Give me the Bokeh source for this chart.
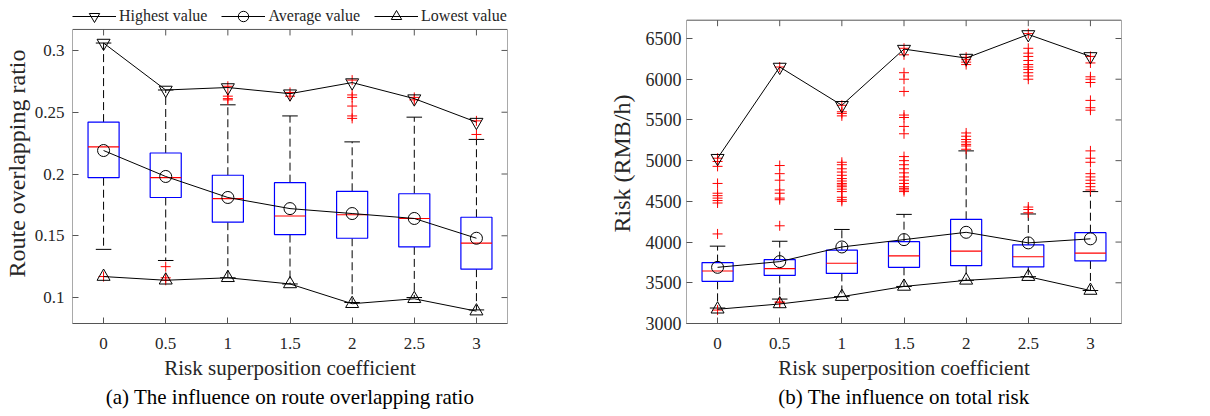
from bokeh.plotting import figure
from bokeh.models import Range1d, FixedTicker, Legend, LegendItem
from bokeh.layouts import row
from bokeh.embed import file_html
from bokeh.resources import INLINE

# ---------------- data ----------------
coef = [0, 0.5, 1, 1.5, 2, 2.5, 3]
coef_labels = ["0", "0.5", "1", "1.5", "2", "2.5", "3"]

# (a) route overlapping ratio
a_q1 = [0.197, 0.181, 0.161, 0.151, 0.148, 0.141, 0.123]
a_q3 = [0.242, 0.217, 0.199, 0.193, 0.186, 0.184, 0.165]
a_med = [0.222, 0.197, 0.180, 0.166, 0.167, 0.164, 0.144]
a_whi = [0.306, 0.268, 0.256, 0.247, 0.226, 0.246, 0.228]
a_wlo = [0.139, 0.130, 0.116, 0.111, 0.096, 0.100, 0.090]
a_mean = [0.219, 0.198, 0.181, 0.172, 0.168, 0.164, 0.148]
a_high = [0.306, 0.268, 0.270, 0.265, 0.274, 0.261, 0.242]
a_low = [0.117, 0.114, 0.116, 0.111, 0.095, 0.099, 0.089]
a_out_x = [0, 0.5, 0.5, 0.5, 1, 1, 1, 1, 1.5, 1.5, 2, 2, 2, 2, 2, 2, 2.5, 2.5, 3, 3]
a_out_y = [0.117, 0.125, 0.116, 0.114, 0.271, 0.263, 0.261, 0.260, 0.266, 0.263,
           0.276, 0.264, 0.262, 0.255, 0.247, 0.245, 0.262, 0.260, 0.243, 0.232]
a_yticks = [0.1, 0.15, 0.2, 0.25, 0.3]
a_ylabels = ["0.1", "0.15", "0.2", "0.25", "0.3"]

# (b) total risk
b_q1 = [3518, 3590, 3615, 3690, 3710, 3695, 3768]
b_q3 = [3748, 3785, 3900, 4005, 4280, 3965, 4115]
b_med = [3645, 3675, 3740, 3830, 3890, 3820, 3865]
b_whi = [3950, 4010, 4155, 4340, 5120, 4345, 4620]
b_wlo = [3190, 3300, 3330, 3455, 3530, 3575, 3405]
b_mean = [3690, 3760, 3940, 4030, 4120, 3990, 4040]
b_high = [5030, 6150, 5680, 6370, 6260, 6550, 6280]
b_low = [3175, 3240, 3330, 3455, 3530, 3575, 3405]
b_out = {
    0: [3165, 4100, 4480, 4510, 4540, 4570, 4600, 4720, 4930, 4990, 5030],
    0.5: [3255, 3265, 4200, 4520, 4540, 4600, 4640, 4760, 4840, 4940, 6150],
    1: [4500, 4520, 4550, 4620, 4650, 4680, 4700, 4720, 4750, 4780, 4820, 4860,
        4900, 4950, 4980, 5550, 5580, 5600, 5680],
    1.5: [4620, 4640, 4660, 4680, 4720, 4760, 4800, 4850, 4900, 4950, 5000, 5050,
          5330, 5420, 5530, 5560, 5850, 6000, 6080, 6300, 6380],
    2: [5140, 5180, 5200, 5230, 5260, 5300, 5340, 6180, 6210, 6240, 6270],
    2.5: [4360, 4400, 4430, 6000, 6040, 6080, 6120, 6150, 6180, 6230, 6280, 6320,
          6380, 6560],
    3: [4640, 4680, 4720, 4760, 4800, 4840, 4980, 5030, 5120, 5620, 5650, 5740,
        5960, 6000, 6030, 6200, 6280],
}
b_out_x = [k for k, vs in b_out.items() for _ in vs]
b_out_y = [v for vs in b_out.values() for v in vs]
b_yticks = [3000, 3500, 4000, 4500, 5000, 5500, 6000, 6500]
b_ylabels = [str(t) for t in b_yticks]

FONT = "Liberation Serif"
TXT = "#262626"
AX = "#555555"
FRAME_H = 320          # drawing area height (px); the visible axes box is shorter
X0, X1 = -0.25, 3.25


def panel(q1, q3, med, whi, wlo, mean, high, low, ox, oy, yr, box_top, yt, yl,
          ylabel, caption, legend, mleft, mright,
          tick_fs, tick_standoff, label_standoff):
    p = figure(width=605, height=416, x_range=Range1d(X0, X1),
               y_range=Range1d(*yr), output_backend="svg", toolbar_location=None,
               min_border_left=mleft, min_border_right=mright,
               min_border_top=3, min_border_bottom=93)
    p.grid.visible = False
    p.outline_line_color = None
    p.background_fill_color = "white"
    hw = 0.125
    cw = 0.0625
    # axes box
    p.quad(left=[X0], right=[X1], bottom=[yr[0]], top=[box_top], fill_alpha=0,
           line_color=AX, line_width=1)
    # mirrored ticks on top and right edges (tick length ~6px)
    tx = 6 * (X1 - X0) / 436
    ty = 6 * (yr[1] - yr[0]) / FRAME_H
    p.segment(x0=coef, x1=coef, y0=[box_top] * len(coef), y1=[box_top - ty] * len(coef),
              line_color=AX, line_width=1)
    p.segment(x0=[X1] * len(yt), x1=[X1 - tx] * len(yt), y0=yt, y1=yt,
              line_color=AX, line_width=1)
    # whiskers
    p.segment(x0=coef, x1=coef, y0=q3, y1=whi, line_color="black",
              line_dash="8 4", line_width=1)
    p.segment(x0=coef, x1=coef, y0=q1, y1=wlo, line_color="black",
              line_dash="8 4", line_width=1)
    p.segment(x0=[c - cw for c in coef], x1=[c + cw for c in coef], y0=whi, y1=whi,
              line_color="black", line_width=1)
    p.segment(x0=[c - cw for c in coef], x1=[c + cw for c in coef], y0=wlo, y1=wlo,
              line_color="black", line_width=1)
    # boxes
    p.quad(left=[c - hw for c in coef], right=[c + hw for c in coef], top=q3,
           bottom=q1, fill_color="white", fill_alpha=1, line_color="blue", line_width=1.2)
    p.segment(x0=[c - hw for c in coef], x1=[c + hw for c in coef], y0=med, y1=med,
              line_color="red", line_width=1.2)
    # outliers
    p.scatter(ox, oy, marker="cross", size=10, line_color="red", line_width=1)
    # summary lines
    lh = p.line(coef, high, line_color="black", line_width=1)
    sh = p.scatter(coef, high, marker="inverted_triangle", size=13, fill_alpha=0,
                   line_color="black", line_width=1)
    lm = p.line(coef, mean, line_color="black", line_width=1)
    sm = p.scatter(coef, mean, marker="circle", size=12, fill_alpha=0,
                   line_color="black", line_width=1)
    ll = p.line(coef, low, line_color="black", line_width=1)
    sl = p.scatter(coef, low, marker="triangle", size=13, fill_alpha=0,
                   line_color="black", line_width=1)

    # axes
    for ax in (p.xaxis[0], p.yaxis[0]):
        ax.major_tick_in = 6
        ax.major_tick_out = 0
        ax.minor_tick_in = 0
        ax.minor_tick_out = 0
        ax.major_tick_line_color = AX
        ax.major_label_text_font = FONT
        ax.major_label_text_color = TXT
        ax.axis_label_text_font = FONT
        ax.axis_label_text_font_style = "normal"
        ax.axis_label_text_color = TXT
    p.xaxis.axis_line_color = AX
    p.yaxis.axis_line_color = None
    p.xaxis.ticker = FixedTicker(ticks=coef)
    p.xaxis.major_label_overrides = dict(zip(coef, coef_labels))
    p.xaxis.major_label_text_font_size = "17px"
    p.xaxis.major_label_standoff = 14
    p.xaxis.axis_label = "Risk superposition coefficient"
    p.xaxis.axis_label_text_font_size = "21px"
    p.xaxis.axis_label_standoff = 4
    p.yaxis.ticker = FixedTicker(ticks=yt)
    p.yaxis.major_label_overrides = dict(zip(yt, yl))
    p.yaxis.major_label_text_font_size = tick_fs
    p.yaxis.major_label_standoff = tick_standoff
    p.yaxis.axis_label = ylabel
    p.yaxis.axis_label_text_font_size = "24px"
    p.yaxis.axis_label_standoff = label_standoff

    p.title.text = caption
    p.title_location = "below"
    p.title.align = "center"
    p.title.standoff = 1
    p.title.text_font = FONT
    p.title.text_font_size = "21px"
    p.title.text_font_style = "normal"
    p.title.text_color = "black"

    if legend:
        leg = Legend(items=[
            LegendItem(label="Highest value", renderers=[lh, sh]),
            LegendItem(label="Average value", renderers=[lm, sm]),
            LegendItem(label="Lowest value", renderers=[ll, sl]),
        ], orientation="horizontal", location=(0, FRAME_H - 26))
        leg.glyph_width = 44
        leg.glyph_height = 26
        leg.label_height = 26
        leg.label_standoff = 3
        leg.spacing = 14
        leg.padding = 0
        leg.margin = 0
        leg.border_line_alpha = 0
        leg.background_fill_alpha = 0
        leg.label_text_font = FONT
        leg.label_text_font_size = "16px"
        leg.label_text_color = TXT
        p.add_layout(leg)
    return p


pa = panel(a_q1, a_q3, a_med, a_whi, a_wlo, a_mean, a_high, a_low, a_out_x, a_out_y,
           (0.079, 0.338), 0.317, a_yticks, a_ylabels, "Route overlapping ratio",
           "(a) The influence on route overlapping ratio", True, 71, 98,
           "17px", 8, 2)
pb = panel(b_q1, b_q3, b_med, b_whi, b_wlo, b_mean, b_high, b_low, b_out_x, b_out_y,
           (3000, 6930), 6725, b_yticks, b_ylabels, "Risk (RMB/h)",
           "(b) The influence on total risk", False, 75, 89,
           "18px", 5, 8)

layout = row(pa, pb)
open("out.html", "w").write(file_html(layout, INLINE))
